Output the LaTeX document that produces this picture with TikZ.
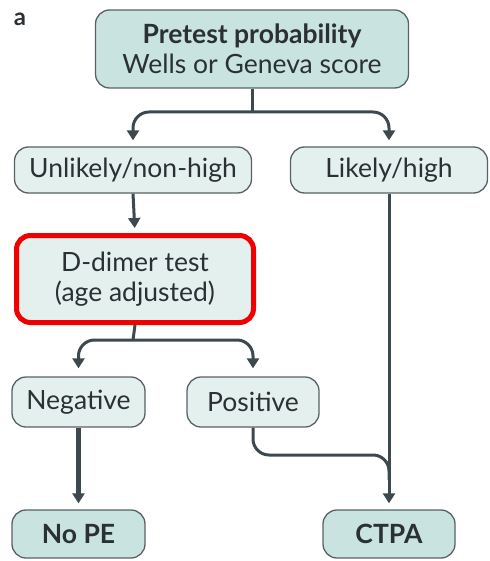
\documentclass[tikz,border=0pt]{standalone}
\usepackage{fontspec}
\setmainfont{Lato}
\usetikzlibrary{arrows.meta}
\definecolor{boxdark}{HTML}{C9E4E0}
\definecolor{boxlight}{HTML}{E4F0EE}
\definecolor{edge}{HTML}{596166}
\definecolor{flow}{HTML}{3E494F}
\definecolor{ink}{HTML}{2A3033}
\definecolor{hilite}{HTML}{F00000}
\begin{document}
\begin{tikzpicture}[x=1pt,y=-1pt,
  box/.style={draw=edge,line width=1.3pt,rounded corners=14pt,text=ink,align=center,
    inner sep=0pt,font=\fontsize{26.5}{30}\selectfont},
  keybox/.style={box,fill=boxdark},
  midbox/.style={box,fill=boxlight},
  flowline/.style={draw=flow,line width=3pt},
  arr/.style={flowline,-{Triangle[width=12pt,length=10pt]}},
]
\useasboundingbox (0,0) rectangle (489,561);

% panel label
\node[font=\fontsize{24}{28}\selectfont,text=ink] (lab) at (20,19) {\textbf{a}};

% boxes
\node[keybox,minimum width=313pt,minimum height=78pt] (top) at (252,49)
  {\textbf{Pretest probability}\\Wells or Geneva score};
\node[midbox,minimum width=237pt,minimum height=46pt] (unl) at (133,170) {Unlikely/non-high};
\node[midbox,minimum width=197pt,minimum height=46pt] (lik) at (389,170) {Likely/high};
\node[midbox,draw=hilite,line width=5pt,minimum width=237pt,minimum height=87pt] (dd) at (135,279)
  {D-dimer test\\(age adjusted)};
\node[midbox,minimum width=133pt,minimum height=50pt] (neg) at (78.5,402) {Negative};
\node[midbox,minimum width=132pt,minimum height=50pt] (pos) at (253,402) {Positive};
\node[keybox,minimum width=133pt,minimum height=48pt] (nope) at (78.5,534) {\textbf{No PE}};
\node[keybox,minimum width=132pt,minimum height=48pt] (ctpa) at (389,534) {\textbf{CTPA}};

% junctions
\coordinate (j1) at (252,112);
\coordinate (j2) at (133,340);
\coordinate (j3) at (389,455);

% connectors
\draw[flowline] (top.south) -- (j1);
\draw[arr,rounded corners=16pt,shorten >=6pt] (j1) -| (unl.north);
\draw[arr,rounded corners=16pt,shorten >=6pt] (j1) -| (lik.north);
\draw[arr,shorten >=5pt] (unl.south) -- (dd.north);
\draw[flowline] (dd.south) -- (j2);
\draw[arr,rounded corners=16pt,shorten >=8pt] (j2) -| (neg.north);
\draw[arr,rounded corners=16pt,shorten >=8pt] (j2) -| (pos.north);
\draw[arr,line width=5pt,shorten >=6pt] (neg.south) -- (nope.north);
\draw[arr,shorten >=6pt] (lik.south) -- (ctpa.north);
\draw[flowline,rounded corners=16pt] (pos.south) |- (j3) -- ++(0,25);
\end{tikzpicture}
\end{document}
